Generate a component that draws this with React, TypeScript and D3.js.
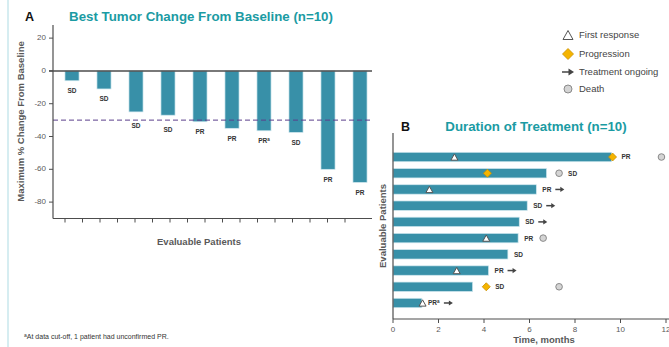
import * as d3 from "d3";

// Panel A: best tumor change per patient
const patientsA = ["1", "2", "3", "4", "5", "6", "7", "8", "9", "10"];
const bestChange = [-6, -11, -25, -27, -31, -35, -36.5, -37.5, -60, -68];
const responseA = ["SD", "SD", "SD", "SD", "PR", "PR", "PR*", "SD", "PR", "PR"];
const yTicksA = [20, 0, -20, -40, -60, -80];
const threshold = -30;

// Panel B: duration of treatment (months)
const patientsB = ["1", "2", "3", "4", "5", "6", "7", "8", "9", "10"];
const duration = [9.6, 6.75, 6.3, 5.9, 5.55, 5.5, 5.05, 4.2, 3.5, 1.27];
const responseB = ["PR", "SD", "PR", "SD", "SD", "PR", "SD", "PR", "SD", "PR*"];
const firstResponse = [2.7, null, 1.6, null, null, 4.1, null, 2.8, null, 1.3];
const progression = [9.65, 4.15, null, null, null, null, null, null, 4.1, null];
const death = [11.8, 7.3, null, null, null, 6.6, null, null, 7.3, null];
const ongoing = [false, false, true, true, true, false, false, true, false, true];
const xTicksB = [0, 2, 4, 6, 8, 10, 12];

const legendItems = ["First response", "Progression", "Treatment ongoing", "Death"];

const teal = "#3890a8";
const titleTeal = "#1b9ba3";
const axisCol = "#4d4d4d";
const textCol = "#595959";
const font = "'Liberation Sans', Arial, sans-serif";

function Label({ x, y, text, anchor }: { x: number; y: number; text: string; anchor: string }) {
  const sup = text.endsWith("*");
  const base = sup ? text.slice(0, -1) : text;
  return (
    <text x={x} y={y} textAnchor={anchor} fontSize={6.5} fontWeight="bold" fill="#333">
      {base}
      {sup && (
        <tspan fontSize={4.5} dy={-2.5}>
          a
        </tspan>
      )}
    </text>
  );
}

function Triangle({ x, y, s }: { x: number; y: number; s: number }) {
  const h = s * 0.9;
  return (
    <path
      d={`M${x},${y - h / 2} L${x + s / 2},${y + h / 2} L${x - s / 2},${y + h / 2} Z`}
      fill="#fff"
      stroke="#555"
      strokeWidth={1}
    />
  );
}

function Diamond({ x, y, s }: { x: number; y: number; s: number }) {
  return (
    <path
      d={`M${x},${y - s / 2} L${x + s / 2},${y} L${x},${y + s / 2} L${x - s / 2},${y} Z`}
      fill="#f5b400"
      stroke="#c98f00"
      strokeWidth={0.8}
    />
  );
}

function Circle({ x, y, r }: { x: number; y: number; r: number }) {
  return <circle cx={x} cy={y} r={r} fill="#d4d4d4" stroke="#8a8a8a" strokeWidth={1} />;
}

function Arrow({ x, y, len, head = 4 }: { x: number; y: number; len: number; head?: number }) {
  return (
    <g>
      <line x1={x} x2={x + len - 3} y1={y} y2={y} stroke="#444" strokeWidth={1.5} />
      <path
        d={`M${x + len},${y} L${x + len - head},${y - head * 0.65} L${x + len - head},${y + head * 0.65} Z`}
        fill="#444"
      />
    </g>
  );
}

export default function App() {
  const width = 669;
  const height = 347;

  // ---- panel A scales
  const xA = d3
    .scaleBand()
    .domain(patientsA)
    .range([56, 376])
    .paddingInner(0.56)
    .paddingOuter(0.28);
  const yA = d3.scaleLinear().domain([-90, 28]).range([218.5, 25]);
  const tickScale = d3.scaleLinear().domain([0, 16]).range([65, 345]);
  const axisLeftA = 53;
  const axisRightA = 372;
  const yThr = yA(threshold);

  // ---- panel B scales
  const xB = d3.scaleLinear().domain([0, 12]).range([393, 666]);
  const yB = d3
    .scaleBand()
    .domain(patientsB)
    .range([148.9, 311.1])
    .paddingInner(0.42)
    .paddingOuter(0.21);
  const axisTopB = 133;
  const axisBottomB = 319;

  const charW = (t: string) => (t.endsWith("*") ? 16 : 13);

  return (
    <svg
      width={width}
      height={height}
      style={{ position: "absolute", left: 0, top: 0, fontFamily: font }}
    >
      <rect x={0} y={0} width={width} height={height} fill="#fff" />
      <line x1={8} x2={8} y1={0} y2={height} stroke="#d6edf1" strokeWidth={2} />

      {/* ===== Panel A ===== */}
      <text x={25} y={21} fontSize={12.5} fontWeight="bold" fill="#111">
        A
      </text>
      <text x={201} y={21} textAnchor="middle" fontSize={13.3} fontWeight="bold" fill={titleTeal}>
        Best Tumor Change From Baseline (n=10)
      </text>
      <text
        transform={`translate(24,${(25 + 218) / 2}) rotate(-90)`}
        textAnchor="middle"
        fontSize={9.5}
        fontWeight="bold"
        fill={textCol}
      >
        Maximum % Change From Baseline
      </text>

      {bestChange.map((v, i) => (
        <rect
          key={"ba" + i}
          x={xA(patientsA[i])}
          y={yA(0)}
          width={xA.bandwidth()}
          height={yA(v) - yA(0)}
          fill={teal}
          stroke="#cfe7ee"
          strokeWidth={0.7}
        />
      ))}
      {bestChange.map((v, i) => {
        const bottom = yA(v);
        // labels just above the dashed line are pushed below it
        const near = bottom < yThr && bottom + 12 > yThr;
        const cy = bottom + (near ? 14 : 10);
        return (
          <Label
            key={"la" + i}
            x={(xA(patientsA[i]) as number) + xA.bandwidth() / 2}
            y={cy + 2.4}
            text={responseA[i]}
            anchor="middle"
          />
        );
      })}

      <line
        x1={axisLeftA}
        x2={axisRightA}
        y1={yThr}
        y2={yThr}
        stroke="#5a3f8c"
        strokeWidth={1}
        strokeDasharray="5,3"
      />

      {/* y axis */}
      <line x1={axisLeftA} x2={axisLeftA} y1={25} y2={218.5} stroke={axisCol} strokeWidth={1.2} />
      {yTicksA.map((t) => (
        <g key={"ya" + t}>
          <line x1={axisLeftA - 4} x2={axisLeftA} y1={yA(t)} y2={yA(t)} stroke={axisCol} strokeWidth={1} />
          <text
            x={axisLeftA - 7}
            y={yA(t)}
            textAnchor="end"
            dominantBaseline="middle"
            fontSize={8}
            fill={textCol}
          >
            {t}
          </text>
        </g>
      ))}
      {/* zero line */}
      <line x1={axisLeftA - 4} x2={axisRightA} y1={yA(0)} y2={yA(0)} stroke={axisCol} strokeWidth={1.5} />
      {/* bottom axis */}
      <line x1={axisLeftA} x2={axisRightA} y1={218.5} y2={218.5} stroke={axisCol} strokeWidth={1.2} />
      {d3.range(17).map((i) => (
        <line
          key={"xt" + i}
          x1={tickScale(i)}
          x2={tickScale(i)}
          y1={218.5}
          y2={222.5}
          stroke={axisCol}
          strokeWidth={1}
        />
      ))}
      <text x={199} y={245} textAnchor="middle" fontSize={9.5} fontWeight="bold" fill={textCol}>
        Evaluable Patients
      </text>

      {/* footnote */}
      <text x={24} y={339} fontSize={7} fill="#333">
        <tspan fontSize={5} dy={-2}>
          a
        </tspan>
        <tspan dy={2}>At data cut-off, 1 patient had unconfirmed PR.</tspan>
      </text>

      {/* ===== Legend ===== */}
      {legendItems.map((name, i) => {
        const cy = [35, 54, 72, 89][i];
        const sx = 568;
        return (
          <g key={"lg" + i}>
            {i === 0 && <Triangle x={sx} y={cy} s={10} />}
            {i === 1 && <Diamond x={sx} y={cy} s={11} />}
            {i === 2 && <Arrow x={sx - 6} y={cy} len={12} head={5.5} />}
            {i === 3 && <Circle x={sx} y={cy} r={4} />}
            <text x={sx + 11} y={cy} dominantBaseline="middle" fontSize={9.5} fill="#444">
              {name}
            </text>
          </g>
        );
      })}

      {/* ===== Panel B ===== */}
      <text x={401} y={131} fontSize={12.5} fontWeight="bold" fill="#111">
        B
      </text>
      <text x={536} y={131} textAnchor="middle" fontSize={13.3} fontWeight="bold" fill={titleTeal}>
        Duration of Treatment (n=10)
      </text>
      <text
        transform={`translate(386,${(axisTopB + axisBottomB) / 2}) rotate(-90)`}
        textAnchor="middle"
        fontSize={9.5}
        fontWeight="bold"
        fill={textCol}
      >
        Evaluable Patients
      </text>

      {duration.map((d, i) => (
        <rect
          key={"bb" + i}
          x={xB(0)}
          y={yB(patientsB[i])}
          width={xB(d) - xB(0)}
          height={yB.bandwidth()}
          fill={teal}
          stroke="#cfe7ee"
          strokeWidth={0.7}
        />
      ))}

      {duration.map((d, i) => {
        const cy = (yB(patientsB[i]) as number) + yB.bandwidth() / 2;
        const prog = progression[i];
        const dth = death[i];
        const fr = firstResponse[i];
        let lx = prog != null && prog >= d ? xB(prog) + 9 : xB(d) + 6;
        const w = charW(responseB[i]);
        if (dth != null && xB(dth) - 4 < lx + w - 3) lx = xB(dth) + 9;
        return (
          <g key={"mk" + i}>
            {fr != null && <Triangle x={xB(fr)} y={cy} s={7} />}
            {prog != null && <Diamond x={xB(prog)} y={cy} s={8} />}
            {dth != null && <Circle x={xB(dth)} y={cy} r={3.3} />}
            <Label x={lx} y={cy + 2.4} text={responseB[i]} anchor="start" />
            {ongoing[i] && <Arrow x={lx + w} y={cy} len={9} />}
          </g>
        );
      })}

      {/* axes B */}
      <line x1={393} x2={393} y1={axisTopB} y2={axisBottomB} stroke={axisCol} strokeWidth={1.2} />
      <line x1={393} x2={width} y1={axisBottomB} y2={axisBottomB} stroke={axisCol} strokeWidth={1.2} />
      {xTicksB.map((t) => (
        <g key={"xb" + t}>
          <line x1={xB(t)} x2={xB(t)} y1={axisBottomB} y2={axisBottomB + 4} stroke={axisCol} strokeWidth={1} />
          <text x={xB(t)} y={axisBottomB + 13} textAnchor="middle" fontSize={8} fill={textCol}>
            {t}
          </text>
        </g>
      ))}
      <text x={544} y={343} textAnchor="middle" fontSize={9.5} fontWeight="bold" fill={textCol}>
        Time, months
      </text>
    </svg>
  );
}
